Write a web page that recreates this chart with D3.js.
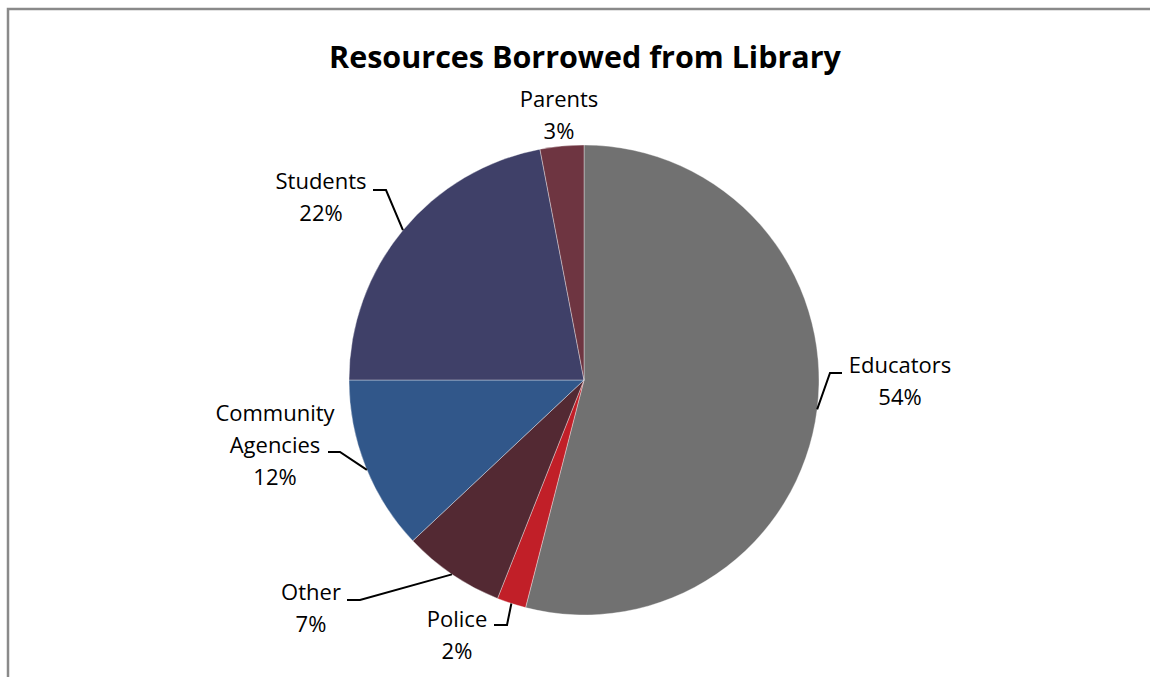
<!DOCTYPE html>
<html><head><meta charset="utf-8">
<script src="https://cdn.jsdelivr.net/npm/d3@7"></script>
<style>html,body{margin:0;padding:0;background:#fff;overflow:hidden}</style>
</head><body>
<svg id="chart" width="1150" height="677"></svg>
<script>
const categories = ["Educators", "Police", "Other", "Community Agencies", "Students", "Parents"];
const values = [54, 2, 7, 12, 22, 3];
const colors = ["#717171", "#C11F28", "#532933", "#31578A", "#3F4068", "#6E3541"];
const title = "Resources Borrowed from Library";

// label layout (text centre x, first baseline y, label lines, leader anchor angle in degrees, elbow)
const layout = {
  "Educators":          {x: 900, y: 373, lines: ["Educators"], ang: null, elbow: [[842,373],[830,373]]},
  "Police":             {x: 457, y: 627, lines: ["Police"], ang: null, elbow: [[494,625],[507,625]]},
  "Other":              {x: 311, y: 600, lines: ["Other"], ang: null, elbow: [[347,600],[360,600]]},
  "Community Agencies": {x: 275, y: 421, lines: ["Community","Agencies"], ang: 247.5, elbow: [[328,452],[340,452]]},
  "Students":           {x: 321, y: 189, lines: ["Students"], ang: null, elbow: [[373,190],[386,190]]},
  "Parents":            {x: 559, y: 107, lines: ["Parents"], ang: null, elbow: null}
};

const svg = d3.select("#chart");
const cx = 584, cy = 380, r = 235;
const font = "'Open Sans', 'Noto Sans', sans-serif";

svg.append("path").attr("d", "M8,690 L8,9 L1160,9").attr("fill","none").attr("stroke","#8a8a8a").attr("stroke-width",2.5);

svg.append("text").attr("x", 585).attr("y", 68).attr("text-anchor","middle")
  .attr("font-family", font).attr("font-weight","bold").attr("font-size", 30.5).attr("fill","#000").text(title);

const data = categories.map((c,i)=>({name:c, value:values[i], color:colors[i]}));
const pie = d3.pie().value(d=>d.value).sort(null);
const arcs = pie(data);
const arc = d3.arc().innerRadius(0).outerRadius(r);
const g = svg.append("g").attr("transform", `translate(${cx},${cy})`);
g.selectAll("path.slice").data(arcs).join("path").attr("class","slice")
  .attr("d", arc).attr("fill", d=>d.data.color).attr("stroke","#ffffff").attr("stroke-width",0.6).attr("stroke-opacity",0.6);

const total = d3.sum(values);
arcs.forEach(a=>{
  const L = layout[a.data.name];
  const pct = Math.round(a.data.value/total*100) + "%";
  const lines = L.lines.concat([pct]);
  const t = svg.append("text").attr("text-anchor","middle").attr("font-family", font)
    .attr("font-size", 22).attr("fill","#000");
  lines.forEach((ln,i)=>t.append("tspan").attr("x", L.x).attr("y", L.y + i*32).text(ln));
  if (L.elbow) {
    const ang = L.ang != null ? L.ang*Math.PI/180 : (a.startAngle + a.endAngle)/2;
    const px = cx + r*Math.sin(ang), py = cy - r*Math.cos(ang);
    const pts = L.elbow.concat([[px,py]]);
    svg.append("path").attr("d", d3.line()(pts)).attr("fill","none").attr("stroke","#000").attr("stroke-width",2);
  }
});
</script>
</body></html>
